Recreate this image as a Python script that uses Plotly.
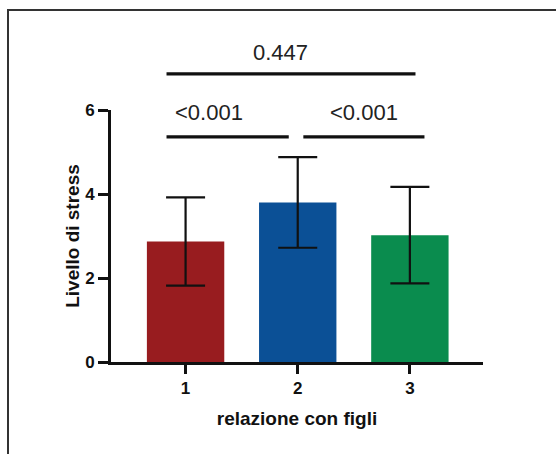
import plotly.graph_objects as go

# ---- data ----
categories = [1, 2, 3]
tick_labels = ["1", "2", "3"]
means = [2.87, 3.80, 3.02]
sd = [1.05, 1.08, 1.15]
bar_colors = ["#981c1f", "#0b5096", "#0a8c4e"]

# significance brackets (data units)
br_x0 = [0.83, 2.05, 0.83]
br_x1 = [1.92, 3.13, 3.05]
br_y = [5.36, 5.36, 6.86]
lab_x = [1.21, 2.59, 1.85]
lab_y = [5.93, 5.93, 7.36]
labels = ["<0.001", "<0.001", "0.447"]

# ---- layout geometry ----
W, H = 556, 454
ML, MR, MT, MB = 111, 73, 110, 92
XR = [0.335, 3.652]
YR = [0, 6]
PW, PH = W - ML - MR, H - MT - MB

def xp(v):
    return (v - XR[0]) / (XR[1] - XR[0])

def yp(v):
    return (v - YR[0]) / (YR[1] - YR[0])

def px_x(p):
    return (p - ML) / PW

def px_y(p):
    return (H - MB - p) / PH

FONT = "Liberation Sans, Arial, Helvetica, sans-serif"

fig = go.Figure()
fig.add_trace(go.Bar(
    x=categories, y=means, width=0.69,
    marker=dict(color=bar_colors, line=dict(width=0)),
    error_y=dict(type="data", array=sd, symmetric=True,
                 color="#111111", thickness=2.2, width=19.5),
    showlegend=False,
))

shapes = []
for x0, x1, y in zip(br_x0, br_x1, br_y):
    shapes.append(dict(type="line", xref="paper", yref="paper",
                       x0=xp(x0), x1=xp(x1), y0=yp(y), y1=yp(y),
                       line=dict(color="#111111", width=3.2)))
# image frame (left and top edges)
shapes.append(dict(type="line", xref="paper", yref="paper",
                   x0=px_x(8), x1=px_x(8), y0=px_y(10), y1=px_y(460),
                   line=dict(color="#333333", width=2)))
shapes.append(dict(type="line", xref="paper", yref="paper",
                   x0=px_x(7), x1=px_x(560), y0=px_y(10), y1=px_y(10),
                   line=dict(color="#333333", width=2)))

annotations = []
for x, y, t in zip(lab_x, lab_y, labels):
    annotations.append(dict(xref="paper", yref="paper", x=xp(x), y=yp(y),
                            text=t, showarrow=False, xanchor="center", yanchor="middle",
                            font=dict(family=FONT, size=22, color="#222222")))

fig.update_layout(
    width=W, height=H,
    margin=dict(l=ML, r=MR, t=MT, b=MB, pad=0),
    paper_bgcolor="white", plot_bgcolor="white",
    font=dict(family=FONT, color="#111111"),
    shapes=shapes, annotations=annotations,
    bargap=0.3,
)
fig.update_xaxes(
    range=XR, tickvals=categories, ticktext=tick_labels,
    showline=True, linewidth=3, linecolor="#111111", showgrid=False, zeroline=False,
    ticks="outside", ticklen=9, tickwidth=2.5, tickcolor="#111111",
    tickfont=dict(family=FONT, size=17, weight="bold", color="#111111"),
    title=dict(text="relazione con figli", standoff=15,
               font=dict(family=FONT, size=19, weight="bold", color="#111111")),
    automargin=False, fixedrange=True,
)
fig.update_yaxes(
    range=YR, tickvals=[0, 2, 4, 6], ticktext=["0", "2", "4", "6"],
    showline=True, linewidth=3, linecolor="#111111", showgrid=False, zeroline=False,
    ticks="outside", ticklen=10, tickwidth=2.5, tickcolor="#111111",
    tickfont=dict(family=FONT, size=17, weight="bold", color="#111111"),
    title=dict(text="Livello di stress", standoff=1,
               font=dict(family=FONT, size=19, weight="bold", color="#111111")),
    automargin=False, fixedrange=True,
)

fig.write_html("out.html", config={"displayModeBar": False})
